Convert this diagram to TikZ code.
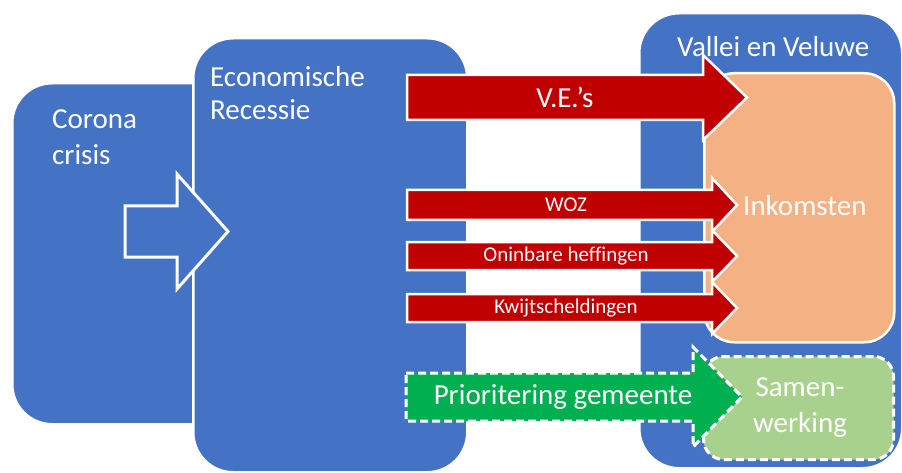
\documentclass[tikz,border=0pt]{standalone}
\usepackage{fontspec}
\setmainfont{Carlito}[Ligatures=NoCommon]
\definecolor{blu}{HTML}{4472C4}
\definecolor{rd}{HTML}{C00000}
\definecolor{org}{HTML}{F4B183}
\definecolor{grn}{HTML}{00B050}
\definecolor{lgrn}{HTML}{A9D18E}
\begin{document}
\begin{tikzpicture}[x=1pt,y=-1pt,
  panel/.style={fill=blu, draw=white, line width=2.5pt, rounded corners=40pt, inner sep=0pt, anchor=north west},
  orangebox/.style={fill=org, draw=white, line width=2.5pt, rounded corners=30pt, inner sep=0pt, anchor=north west},
  greenbox/.style={fill=lgrn, draw=white, line width=3pt, dash pattern=on 8pt off 4pt, rounded corners=20pt, inner sep=0pt, anchor=north west},
  redarrow/.style={fill=rd, draw=white, line width=2.5pt},
  greenarrow/.style={fill=grn, draw=white, line width=3pt, dash pattern=on 8pt off 4pt},
  bluearrow/.style={fill=blu, draw=white, line width=3pt},
  bigtxt/.style={text=white, inner sep=0pt, font=\fontsize{29}{35}\selectfont},
  smalltxt/.style={text=white, inner sep=0pt, font=\fontsize{21}{25}\selectfont}]
\useasboundingbox (0,0) rectangle (902,473);
% panels
\node[panel, minimum width=260pt, minimum height=341pt] (corona) at (11,82) {};
\node[panel, minimum width=274pt, minimum height=434pt] (econ) at (192,37) {};
\node[panel, minimum width=263pt, minimum height=455pt] (vallei) at (638,12) {};
\node[orangebox, minimum width=190pt, minimum height=269pt] (inkomsten) at (703,72) {};
\node[greenbox, minimum width=190pt, minimum height=103pt] (samen) at (702,355) {};
% panel texts (base = baseline of last line)
\node[bigtxt, anchor=base west, align=left, font=\fontsize{29}{36}\selectfont] (coronatxt) at (52,165) {Corona\\crisis};
\node[bigtxt, anchor=base west, align=left, font=\fontsize{29}{33}\selectfont] (econtxt) at (210,120) {Economische\\Recessie};
\node[bigtxt, anchor=base west] (valleitxt) at (677,57) {Vallei en Veluwe};
\node[bigtxt, anchor=base west] (inktxt) at (743,215) {Inkomsten};
\node[bigtxt, anchor=base, align=center, font=\fontsize{29}{36}\selectfont] (samentxt) at (800,432) {Samen-\\werking};
% corona arrow
\path[bluearrow] (125,206) -- (177,206) -- (177,174) -- (228,231.5) -- (177,289) -- (177,257) -- (125,257) -- cycle;
% red arrows
\path[redarrow] (407,75) -- (703,75) -- (703,55) -- (747,97.5) -- (703,140) -- (703,120) -- (407,120) -- cycle;
\path[redarrow] (407,190) -- (712,190) -- (712,178) -- (737,205) -- (712,232) -- (712,220) -- (407,220) -- cycle;
\path[redarrow] (407,242) -- (712,242) -- (712,230) -- (737,256) -- (712,282) -- (712,270) -- (407,270) -- cycle;
\path[redarrow] (407,294) -- (712,294) -- (712,282) -- (737,308) -- (712,334) -- (712,322) -- (407,322) -- cycle;
% green arrow
\path[greenarrow] (406,373) -- (693,373) -- (693,347) -- (742,397) -- (693,447) -- (693,421) -- (406,421) -- cycle;
% arrow texts
\node[bigtxt] (ves) at (565,97.5) {V.E.’s};
\node[smalltxt] (woz) at (566,205) {WOZ};
\node[smalltxt] (onin) at (566,256) {Oninbare heffingen};
\node[smalltxt] (kwijt) at (566,308) {Kwijtscheldingen};
\node[bigtxt] (prio) at (563,397) {Prioritering gemeente};
\end{tikzpicture}
\end{document}
